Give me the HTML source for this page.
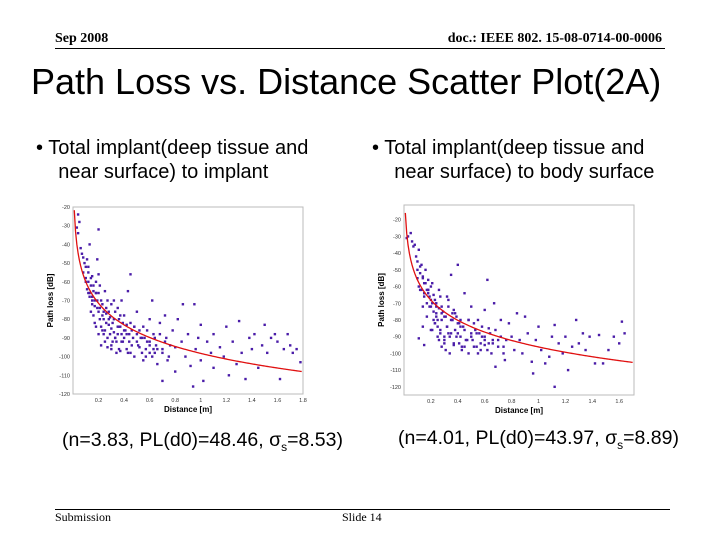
<!DOCTYPE html>
<html><head><meta charset="utf-8">
<style>
body{margin:0;width:720px;height:540px;background:#fff;position:relative;overflow:hidden;font-family:"Liberation Sans",sans-serif}
.a{position:absolute;white-space:nowrap}
.serif{font-family:"Liberation Serif",serif}
</style></head><body>
<div class="a serif" style="left:55px;top:31px;font-size:14px;font-weight:bold">Sep 2008</div>
<div class="a serif" style="right:58px;top:31px;font-size:14px;font-weight:bold">doc.: IEEE 802. 15-08-0714-00-0006</div>
<div class="a" style="left:55px;top:48px;width:610px;height:1px;background:#000"></div>
<div class="a" style="left:31px;top:61px;font-size:36px">Path Loss vs. Distance Scatter Plot(2A)</div>
<div class="a" style="left:36px;top:136px;font-size:20px;line-height:24px">• Total implant(deep tissue and<br>&nbsp;&nbsp;&nbsp;&nbsp;near surface) to implant</div>
<div class="a" style="left:372px;top:136px;font-size:20px;line-height:24px">• Total implant(deep tissue and<br>&nbsp;&nbsp;&nbsp;&nbsp;near surface) to body surface</div>
<svg id="chart" class="a" style="left:0;top:0" width="720" height="540"></svg>
<div class="a" style="left:62px;top:429px;font-size:19.5px">(n=3.83, PL(d0)=48.46, σ<sub style="font-size:12px">s</sub>=8.53)</div>
<div class="a" style="left:398px;top:427px;font-size:19.5px">(n=4.01, PL(d0)=43.97, σ<sub style="font-size:12px">s</sub>=8.89)</div>
<div class="a" style="left:55px;top:509px;width:615px;height:1px;background:#000"></div>
<div class="a serif" style="left:55px;top:510px;font-size:12px">Submission</div>
<div class="a serif" style="left:342px;top:510px;font-size:12px">Slide 14</div>
<script>
const leftD=[0.03,0.04,0.05,0.04,0.06,0.07,0.08,0.09,0.1,0.11,0.12,0.13,0.2,0.08,0.1,0.12,0.14,0.15,0.16,0.18,0.19,0.2,0.13,0.15,0.17,0.19,0.2,0.22,0.23,0.25,0.26,0.24,0.22,0.28,0.3,0.3,0.32,0.33,0.35,0.35,0.37,0.38,0.4,0.4,0.42,0.43,0.45,0.45,0.47,0.48,0.5,0.5,0.52,0.55,0.55,0.58,0.6,0.6,0.62,0.63,0.65,0.66,0.68,0.7,0.7,0.72,0.73,0.75,0.78,0.8,0.8,0.82,0.85,0.86,0.88,0.9,0.92,0.94,0.95,0.96,0.98,1.0,1.0,1.02,1.05,1.08,1.1,1.1,1.15,1.18,1.2,1.22,1.25,1.28,1.3,1.32,1.35,1.38,1.4,1.42,1.45,1.48,1.5,1.52,1.55,1.58,1.6,1.62,1.65,1.68,1.7,1.72,1.75,1.78,0.27,0.34,0.38,0.29,0.31,0.36,0.44,0.46,0.53,0.57,0.64,0.26,0.21,0.18,0.16,
0.1,0.11,0.12,0.13,0.14,0.15,0.16,0.17,0.18,0.19,0.2,0.21,0.22,0.23,0.24,0.25,0.26,0.27,0.28,0.29,0.3,0.31,0.32,0.33,0.34,0.35,0.36,0.37,0.38,0.39,0.4,0.41,0.42,0.43,0.44,0.46,0.48,0.5,0.52,0.54,0.56,0.58,0.6,0.62,0.64,0.66,0.68,0.7,0.72,0.74,0.76,
0.15,0.18,0.2,0.23,0.25,0.28,0.3,0.33,0.36,0.39,0.42,0.45,0.48,0.51,0.54,0.57,0.6,0.63,0.12,0.14,0.17,0.21,0.24,0.27,0.32,0.37];
const leftPL=[-31,-24,-28,-34,-42,-45,-47,-50,-52,-48,-55,-40,-32,-55,-58,-60,-62,-57,-65,-60,-48,-56,-68,-72,-70,-74,-66,-70,-78,-65,-82,-88,-94,-76,-72,-85,-80,-90,-88,-74,-84,-92,-78,-86,-96,-65,-56,-82,-90,-100,-76,-88,-95,-84,-102,-92,-80,-98,-70,-88,-94,-104,-82,-96,-113,-78,-90,-100,-86,-95,-108,-80,-92,-72,-100,-88,-105,-116,-72,-96,-90,-83,-102,-113,-92,-98,-88,-106,-95,-100,-84,-110,-92,-104,-81,-98,-112,-90,-96,-88,-106,-94,-83,-98,-90,-88,-92,-112,-96,-88,-94,-98,-96,-103,-95,-98,-70,-88,-92,-96,-92,-86,-90,-96,-98,-74,-80,-84,-78,
-60,-64,-52,-66,-58,-68,-62,-73,-66,-70,-76,-74,-84,-72,-80,-86,-77,-90,-83,-79,-94,-82,-87,-76,-92,-84,-80,-97,-88,-82,-90,-86,-83,-98,-88,-94,-84,-92,-86,-98,-90,-86,-94,-100,-90,-96,-88,-98,-92,-102,-94,
-70,-66,-88,-86,-92,-80,-96,-90,-84,-92,-88,-98,-84,-94,-90,-100,-92,-96,-66,-76,-82,-62,-76,-70,-70,-78];
const rightD=[0.02,0.03,0.05,0.06,0.07,0.08,0.09,0.1,0.1,0.11,0.12,0.13,0.14,0.15,0.16,0.17,0.18,0.2,0.2,0.22,0.22,0.24,0.25,0.26,0.27,0.28,0.3,0.3,0.32,0.33,0.35,0.35,0.37,0.38,0.4,0.4,0.42,0.43,0.45,0.45,0.47,0.5,0.5,0.52,0.55,0.55,0.58,0.6,0.6,0.62,0.63,0.65,0.67,0.68,0.7,0.72,0.74,0.75,0.78,0.8,0.82,0.84,0.86,0.88,0.9,0.92,0.95,0.96,0.98,1.0,1.02,1.05,1.08,1.1,1.12,1.12,1.15,1.18,1.2,1.22,1.25,1.28,1.3,1.33,1.35,1.38,1.42,1.45,1.48,1.52,1.56,1.6,1.62,1.64,0.11,0.14,0.15,0.21,0.28,0.34,0.23,0.19,0.26,0.31,0.36,0.41,0.48,0.53,0.57,0.66,0.18,0.24,
0.1,0.11,0.12,0.13,0.14,0.15,0.16,0.17,0.18,0.19,0.2,0.21,0.22,0.23,0.24,0.25,0.26,0.27,0.28,0.29,0.3,0.31,0.32,0.33,0.34,0.35,0.36,0.37,0.38,0.39,0.4,0.41,0.42,0.43,0.44,0.46,0.48,0.5,0.52,0.54,0.56,0.58,0.6,0.62,0.64,0.66,0.68,0.7,0.72,0.74,0.76,
0.15,0.18,0.2,0.23,0.25,0.28,0.3,0.33,0.36,0.39,0.42,0.45,0.48,0.51,0.54,0.57,0.6,0.63,0.12,0.14,0.17,0.21,0.24,0.27,0.32,0.37];
const rightPL=[-31,-30,-28,-33,-36,-35,-42,-45,-50,-38,-52,-47,-55,-58,-50,-62,-56,-60,-68,-65,-75,-70,-80,-62,-86,-72,-78,-90,-84,-68,-53,-88,-94,-76,-47,-82,-90,-98,-64,-86,-92,-72,-88,-96,-80,-100,-90,-74,-95,-56,-85,-100,-70,-108,-92,-80,-96,-104,-82,-90,-98,-76,-92,-100,-78,-88,-105,-112,-92,-84,-98,-106,-102,-90,-83,-120,-94,-100,-90,-110,-96,-80,-94,-88,-98,-90,-106,-89,-106,-98,-90,-94,-81,-88,-91,-84,-95,-86,-96,-100,-82,-72,-92,-98,-80,-94,-100,-86,-94,-92,-64,-78,
-55,-60,-48,-62,-54,-64,-58,-70,-62,-66,-72,-70,-80,-68,-76,-84,-73,-88,-80,-75,-92,-78,-84,-72,-90,-80,-76,-95,-86,-78,-88,-82,-80,-96,-84,-92,-80,-90,-82,-96,-88,-84,-92,-98,-88,-94,-86,-96,-90,-100,-92,
-66,-62,-86,-82,-90,-76,-94,-88,-80,-90,-84,-96,-80,-92,-88,-98,-90,-94,-62,-72,-78,-58,-72,-66,-66,-74];
const fitN=[3.83,4.01];
const fitPL0=[48.46,43.97];
const fitD0=0.05;
const xTicks=[0.2,0.4,0.6,0.8,1,1.2,1.4,1.6,1.8];
const yTicks=[-20,-30,-40,-50,-60,-70,-80,-90,-100,-110,-120];
const NS='http://www.w3.org/2000/svg';
const svg=document.getElementById('chart');
function mk(t,a,p){const e=document.createElementNS(NS,t);for(const k in a)e.setAttribute(k,a[k]);(p||svg).appendChild(e);return e;}
const cfg=[
 {x0:73,x1:303,xmax:1.8,ytop:207,ybot:394,vtop:-20,vbot:-120,D:leftD,P:leftPL,name:'left'},
 {x0:404,x1:634,xmax:1.71,ytop:205,ybot:395,vtop:-11.2,vbot:-124.9,D:rightD,P:rightPL,name:'right'}];
cfg.forEach((c,i)=>{
 const g=mk('g',{});
 
 
 const sx=d=>c.x0+(c.x1-c.x0)*d/c.xmax;
 const sy=v=>c.ytop+(c.ybot-c.ytop)*(v-c.vtop)/(c.vbot-c.vtop);
 const box=mk('rect',{x:c.x0,y:c.ytop,width:c.x1-c.x0,height:c.ybot-c.ytop,fill:'#fff',stroke:'#bbb','stroke-width':1},g);
 
 
 xTicks.forEach(t=>{if(t>c.xmax+0.001)return;const tx=mk('text',{x:sx(t),y:c.ybot+8,'font-size':5.5,'text-anchor':'middle',fill:'#333'},g);tx.textContent=t;
  
  });
 yTicks.forEach(t=>{const y=sy(t);if(y<c.ytop-1||y>c.ybot+1)return;const tx=mk('text',{x:c.x0-3,y:y+2,'font-size':5.5,'text-anchor':'end',fill:'#333'},g);tx.textContent=t;
  
  });
 const xl=mk('text',{x:(c.x0+c.x1)/2,y:c.ybot+18,'font-size':8,'font-weight':'bold','text-anchor':'middle'},g);xl.textContent='Distance [m]';
 
 
 const yl=mk('text',{x:0,y:0,'font-size':8,'font-weight':'bold','text-anchor':'middle',transform:`translate(${c.x0-20},${(c.ytop+c.ybot)/2}) rotate(-90)`},g);yl.textContent='Path loss [dB]';
 
 
 const n=Math.min(c.D.length,c.P.length);
 for(let k=0;k<n;k++){const r=mk('rect',{x:sx(c.D[k])-1.2,y:sy(c.P[k])-1.2,width:2.4,height:2.4,fill:'#4a1ca8'},g);
  
  }
 let pts=[];for(let d=0.01;d<=c.xmax;d+=0.01){const v=-(fitPL0[i]+10*fitN[i]*Math.log10(d/fitD0));const y=sy(v);if(y>=c.ytop)pts.push(sx(d)+','+y);}
 const pl=mk('polyline',{points:pts.join(' '),fill:'none',stroke:'#e01010','stroke-width':1.3},g);
 
 
});
</script>
</body></html>
